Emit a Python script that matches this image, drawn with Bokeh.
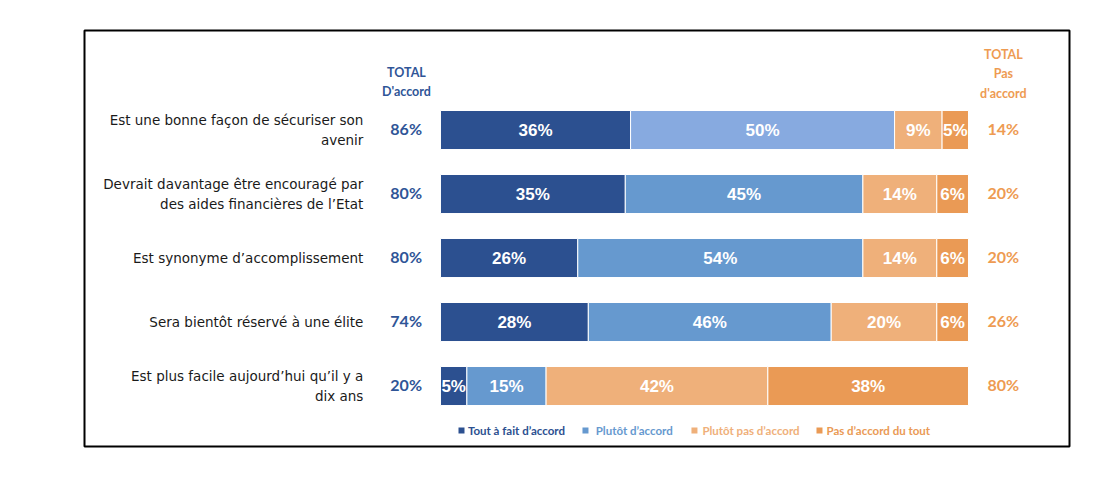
from bokeh.plotting import figure
from bokeh.models import ColumnDataSource, Range1d
from bokeh.core.properties import value
from bokeh.embed import file_html
from bokeh.resources import INLINE
import numpy as np

# ---- data ----
categories = [
    "Est une bonne façon de sécuriser son\navenir",
    "Devrait davantage être encouragé par\ndes aides financières de l’Etat",
    "Est synonyme d’accomplissement",
    "Sera bientôt réservé à une élite",
    "Est plus facile aujourd’hui qu’il y a\ndix ans",
]
tout_a_fait = [36, 35, 26, 28, 5]
plutot = [50, 45, 54, 46, 15]
plutot_pas = [9, 14, 14, 20, 42]
pas_du_tout = [5, 6, 6, 6, 38]
total_accord = [86, 80, 80, 74, 20]
total_pas_accord = [14, 20, 20, 26, 80]
series_names = ["Tout à fait d’accord", "Plutôt d’accord", "Plutôt pas d’accord", "Pas d’accord du tout"]

# ---- styles ----
DARK_BLUE = "#2C5090"
LIGHT_BLUE = "#6699CF"
LIGHT_BLUE_1 = "#87AAE0"
LIGHT_ORANGE = "#EFB07A"
DARK_ORANGE = "#EA9A55"
TOTAL_BLUE = "#2F5597"
TOTAL_ORANGE = "#EE9B52"
series_colors = [DARK_BLUE, LIGHT_BLUE, LIGHT_ORANGE, DARK_ORANGE]
plutot_colors = [LIGHT_BLUE_1] + [LIGHT_BLUE] * 4

rows = np.arange(len(categories))

p = figure(width=1098, height=464, output_backend="svg", toolbar_location=None,
           x_range=Range1d(-67.42, 119.13), y_range=Range1d(4.945, -1.555),
           x_axis_type=None, y_axis_type=None,
           min_border_left=84, min_border_right=29, min_border_top=30, min_border_bottom=18)
p.grid.visible = False
p.outline_line_color = "black"
p.outline_line_width = 2
p.background_fill_color = "white"
p.border_fill_color = "white"

series = [tout_a_fait, plutot, plutot_pas, pas_du_tout]
left = np.zeros(len(categories))
for k, vals in enumerate(series):
    vals = np.array(vals, dtype=float)
    colors = plutot_colors if k == 1 else [series_colors[k]] * len(categories)
    src = ColumnDataSource(dict(y=rows, left=left, right=left + vals,
                                mid=left + vals / 2, lab=[f"{int(v)}%" for v in vals],
                                color=colors))
    p.hbar(y="y", left="left", right="right", height=0.61, fill_color="color",
           line_color="white", line_width=1, source=src)
    p.text(x="mid", y="y", text="lab", source=src, text_color="white",
           text_font=value("Liberation Sans"), text_font_style="bold",
           text_font_size="17px", text_align="center", text_baseline="middle")
    left = left + vals

# category labels
p.text(x=[-14.6] * len(categories), y=rows, text=categories,
       text_font=value("DejaVu Sans"), text_font_size="13.5px", text_color="#1a1a1a",
       text_align="right", text_baseline="middle", text_line_height=1.2)

# totals
p.text(x=[-6.5] * len(categories), y=rows, text=[f"{v}%" for v in total_accord],
       text_font=value("Lato"), text_font_style="bold", text_font_size="16px",
       text_color=TOTAL_BLUE, text_align="center", text_baseline="middle", y_offset=-2)
p.text(x=[106.6] * len(categories), y=rows, text=[f"{v}%" for v in total_pas_accord],
       text_font=value("Lato"), text_font_style="bold", text_font_size="16px",
       text_color=TOTAL_ORANGE, text_align="center", text_baseline="middle", y_offset=-2)

# headers
p.text(x=[-6.45], y=[-0.75], text=["TOTAL\nD'accord"],
       text_font=value("Lato"), text_font_style="bold", text_font_size="12.5px",
       text_color=TOTAL_BLUE, text_align="center", text_baseline="middle", text_line_height=1.3)
p.text(x=[106.6], y=[-0.883], text=["TOTAL\nPas\nd'accord"],
       text_font=value("Lato"), text_font_style="bold", text_font_size="12.5px",
       text_color=TOTAL_ORANGE, text_align="center", text_baseline="middle", text_line_height=1.3)

# legend
leg_sq_x = [3.98, 27.46, 48.1, 71.78]
leg_tx_x = [5.2, 29.4, 49.6, 73.1]
leg_y = 4.695
p.scatter(x=leg_sq_x, y=[leg_y] * 4, marker="square", size=6, fill_color=series_colors,
          line_color=None)
p.text(x=leg_tx_x, y=[leg_y] * 4, text=series_names, text_color=series_colors,
       text_font=value("Lato"), text_font_style="bold", text_font_size="11.5px",
       text_align="left", text_baseline="middle")

open("out.html", "w").write(file_html(p, INLINE))
